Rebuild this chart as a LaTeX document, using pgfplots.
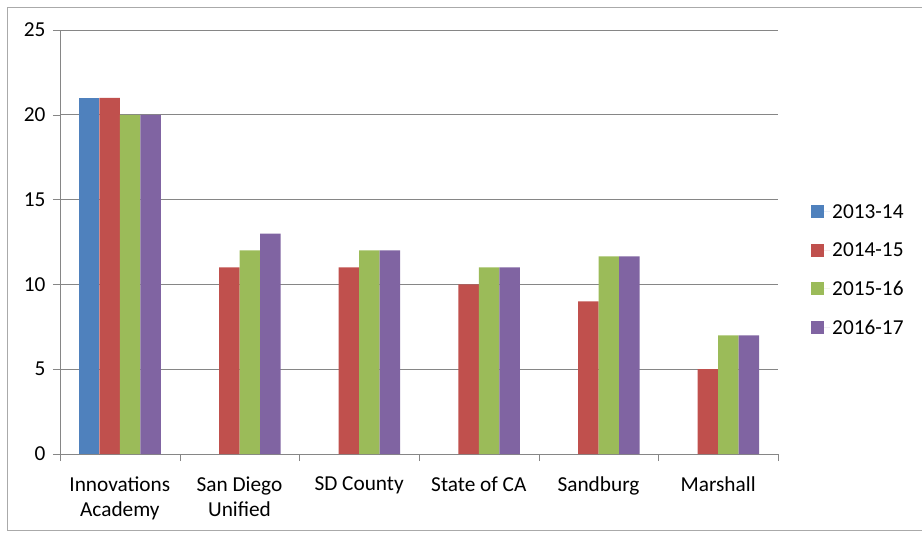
\documentclass[border=0pt]{standalone}
\usepackage{pgfplots}
\pgfplotsset{compat=1.18}
\usepackage{fontspec}
\setmainfont{Carlito}
\definecolor{cA}{HTML}{4F81BD}
\definecolor{cB}{HTML}{C0504D}
\definecolor{cC}{HTML}{9BBB59}
\definecolor{cD}{HTML}{8064A2}
\definecolor{gridgray}{RGB}{134,134,134}
\definecolor{framegray}{RGB}{170,170,170}
\pgfplotsset{/pgfplots/ybar legend/.style={/pgfplots/legend image code/.code={\fill[##1] (0pt,-6.5pt) rectangle (13pt,6.5pt); \path (13pt,0pt) -- (19pt,0pt);}}}
\begin{document}
\begin{tikzpicture}
\begin{axis}[
  scale only axis, width=718pt, height=424pt,
  ybar=0pt, bar width=20.5pt,
  xmin=-0.5, xmax=5.5, ymin=0, ymax=25,
  ytick={0,5,10,15,20,25},
  xtick={0,1,2,3,4,5},
  xticklabels={Innovations\\Academy, San Diego\\Unified, SD County, State of CA, Sandburg, Marshall},
  minor xtick={-0.5,0.5,1.5,2.5,3.5,4.5,5.5},
  major x tick style={draw=none},
  minor x tick style={draw=gridgray},
  major y tick style={draw=gridgray},
  tick align=outside, xtick pos=lower, ytick pos=left,
  major tick length=7pt, minor tick length=7pt,
  axis x line*=bottom, axis y line*=left,
  axis line style={draw=gridgray, -},
  ymajorgrids, grid style={gridgray, line width=0.8pt},
  /pgf/number format/assume math mode=true,
  tick label style={font=\fontsize{21.3}{25}\selectfont, text=black},
  xticklabel style={align=center, yshift=-12pt},
  yticklabel style={xshift=-4pt},
  legend style={draw=none, fill=none, at={(axis description cs:1.046,0.434)}, anchor=west,
    font=\fontsize{21.3}{25}\selectfont, row sep=19pt, inner sep=0pt,
    legend cell align=left},
  legend cell align=left,
]
\addplot[fill=cA, draw=none] coordinates {(0,21)};
\addplot[fill=cB, draw=none] coordinates {(0,21) (1,11) (2,11) (3,10) (4,9) (5,5)};
\addplot[fill=cC, draw=none] coordinates {(0,20) (1,12) (2,12) (3,11) (4,11.65) (5,7)};
\addplot[fill=cD, draw=none] coordinates {(0,20) (1,13) (2,12) (3,11) (4,11.65) (5,7)};
\legend{2013-14, 2014-15, 2015-16, 2016-17}
\end{axis}
\path[use as bounding box] ([xshift=-60pt,yshift=-79pt]current axis.south west) rectangle ([xshift=144pt,yshift=30pt]current axis.north east);
\draw[framegray, line width=0.8pt] ([xshift=146pt,yshift=23pt]current axis.north east) -- ([xshift=-53pt,yshift=23pt]current axis.north west) -- ([xshift=-53pt,yshift=-76pt]current axis.south west) -- ([xshift=146pt,yshift=-76pt]current axis.south east);
\end{tikzpicture}
\end{document}
